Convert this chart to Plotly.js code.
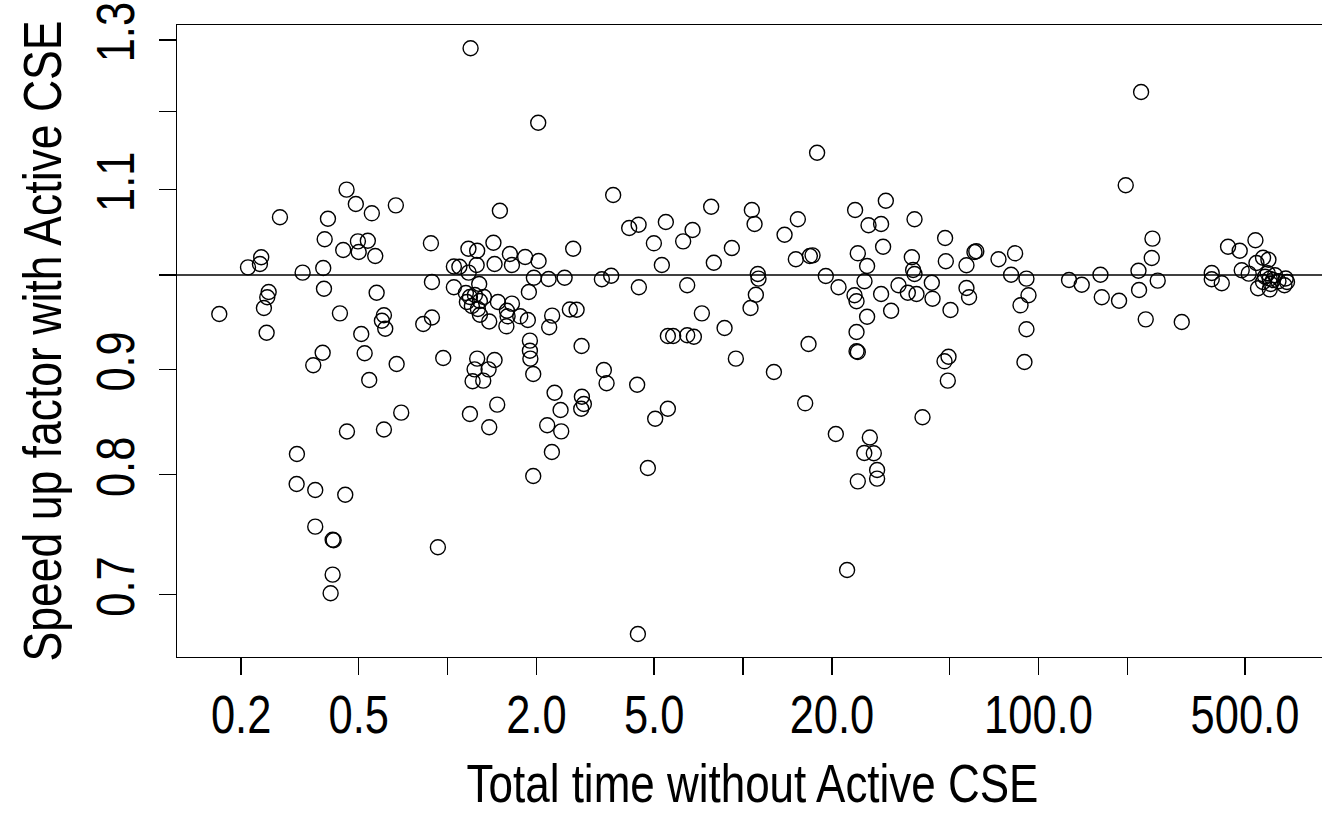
<!DOCTYPE html>
<html>
<head>
<meta charset="utf-8">
<script src="https://cdn.plot.ly/plotly-3.0.1.min.js"></script>
<style>
html,body{margin:0;padding:0;overflow:hidden;background:#fff;}
#chart{width:1340px;height:814px;}
</style>
</head>
<body>
<div id="chart"></div>
<script>
// Total time without Active CSE (x) and speed-up factor (y)
const totalTime = [
  0.455,0.489,0.554,0.668,0.2707,0.3935,0.3836,0.4432,0.497,0.537,0.500,0.5689,0.878,0.2339,0.2316,0.2110,0.3230,0.3793,0.885,0.3815,
  0.2479,0.2452,0.2389,0.1687,0.4320,0.5751,0.6087,0.5993,0.6150,0.2440,0.5101,0.8270,0.885,0.3776,0.3509,0.5238,0.6722,0.5428,0.9663,0.6966,
  0.4563,0.6087,0.3090,1.190,0.3083,0.3564,0.4503,0.3564,0.4082,0.4114,0.927,0.4082,0.4018,
  1.196,2.026,1.503,3.634,4.117,4.430,5.479,4.991,5.311,4.440,2.661,1.176,1.259,1.429,1.625,1.830,2.032,1.442,1.651,1.254,
  1.050,1.096,1.178,1.959,2.197,2.489,3.328,3.578,1.050,1.279,1.884,1.480,1.651,1.588,2.259,2.593,2.733,1.286,1.383,1.581,
  1.761,1.869,2.207,1.596,1.899,2.841,1.899,1.259,1.442,1.906,1.234,1.376,1.215,1.320,1.472,1.383,1.949,3.380,3.452,4.381,
  2.302,2.412,2.173,2.424,2.254,1.949,2.848,2.892,2.833,5.042,5.566,4.762,4.406,5.566,1.153,1.190,1.237,1.162,1.208,1.286,
  1.266,1.327,
  17.81,7.80,10.71,10.94,6.747,6.270,9.165,7.963,13.82,15.33,15.09,16.83,17.19,23.95,30.43,26.59,29.33,38.06,29.79,24.46,
  26.30,37.27,48.30,48.57,57.05,60.73,61.59,11.22,11.28,11.05,10.60,19.06,21.05,25.77,23.84,24.22,29.33,26.30,31.71,33.59,
  36.12,38.65,37.64,38.06,43.55,43.79,50.37,57.05,58.22,6.471,7.255,5.800,6.471,6.816,8.659,9.455,12.72,16.66,16.23,20.61,
  24.22,24.22,24.46,49.60,48.08,49.33,40.50,26.86,25.73,27.71,28.43,28.43,24.46,22.50,
  222.5,197.4,243.1,241.8,218.0,253.3,219.0,230.7,305.5,73.22,83.33,80.77,91.06,92.52,86.93,91.06,89.65,126.9,140.1,162.1,
  163.8,187.4,385.9,385.9,417.3,438.2,479.9,542.5,487.5,514.8,546.7,575.6,600.3,553.5,606.4,584.7,597.0,606.4,622.2,632.0,
  649.0,575.6,686.9,680.0,693.8,611.2
];
const speedup = [
  1.100,1.0825,1.0713,1.0809,1.0666,1.0649,1.0407,1.0283,1.0383,1.039,1.026,1.0214,1.036,1.020,1.0124,1.0086,1.0026,1.0078,0.9922,0.9848,
  0.9812,0.9754,0.9638,0.9574,0.9581,0.9804,0.956,0.9502,0.9418,0.9376,0.9362,0.9468,0.9536,0.9169,0.9041,0.9163,0.9054,0.8894,0.9115,0.8575,
  0.8397,0.8415,0.8188,0.8562,0.7918,0.7866,0.7824,0.7550,0.7441,0.7436,0.7378,0.7156,0.7009,
  1.2881,1.1854,1.0744,1.0934,1.0539,1.0578,1.061,1.036,1.0112,0.9864,1.0298,1.0298,1.0275,1.0367,1.0237,1.0203,1.0158,1.0124,1.0112,1.0112,
  1.0095,1.0093,1.0026,0.997,0.9955,0.997,0.9952,0.9992,0.9864,0.990,0.9812,0.9703,0.9685,0.9609,0.9556,0.9622,0.962,0.9566,0.9494,0.9443,
  0.9549,0.951,0.9433,0.9549,0.9293,0.9238,0.9189,0.9108,0.9094,0.9108,0.900,0.900,0.8881,0.8887,0.8652,0.8436,0.8953,0.8993,0.8861,0.8847,
  0.8768,0.8601,0.8455,0.8398,0.8207,0.7989,0.8729,0.8658,0.8613,0.8517,0.8613,0.8061,0.6697,0.9341,0.9801,0.9757,0.9779,0.9703,0.966,0.9714,
  0.9627,0.9757,
  1.1463,1.0792,1.0753,1.0586,1.0515,1.0383,1.0306,1.0138,1.046,1.0642,1.0177,1.0214,1.0222,1.0753,1.0865,1.0571,1.0586,1.0642,1.0321,1.0245,
  1.0101,1.020,1.0422,1.0154,1.0109,1.026,1.0268,1.0011,0.9959,0.9782,0.9638,0.9989,0.9864,0.993,0.9776,0.9711,0.979,0.9545,0.9609,0.9886,
  0.9804,0.979,1.0056,1.0011,0.9914,0.9739,0.9617,0.9856,0.9754,0.9886,0.9581,0.9341,0.9349,0.9334,0.9425,0.9108,0.8973,0.9258,0.8665,0.8373,
  0.9383,0.9183,0.9176,0.9128,0.9081,0.8887,0.8531,0.8341,0.8197,0.8195,0.8043,0.7966,0.7942,0.7193,
  1.2267,1.1054,1.0414,1.0192,1.0048,0.9937,0.9834,0.9517,0.9489,1.0177,1.0245,1.0003,0.9959,0.9776,0.9667,0.9412,0.9074,0.9944,0.9892,1.0003,
  0.9754,0.9717,1.0022,0.9952,0.9908,1.0321,1.0275,1.0395,1.0053,1.0015,1.0135,1.0195,1.0172,0.9853,0.9841,0.9981,1.0019,0.9959,0.9944,0.9997,
  0.993,0.9922,0.9961,0.9886,0.9922,0.990
];
const xTickVals = [0.2,0.5,1,2,5,10,20,50,100,200,500];
const xTickText = ['0.2','0.5','','2.0','5.0','','20.0','','100.0','','500.0'];
const yTickVals = [0.7,0.8,0.9,1.0,1.1,1.2,1.3];
const yTickText = ['0.7','0.8','0.9','','1.1','','1.3'];
const refLine = 1.0;

const fontFam = '"Liberation Sans", Arial, Helvetica, sans-serif';
const trace = {
  x: totalTime, y: speedup, type: 'scatter', mode: 'markers',
  marker: {symbol: 'circle-open', size: 15, color: '#000', line: {color: '#000', width: 1.4}},
  hoverinfo: 'x+y'
};
const layout = {
  width: 1340, height: 814,
  margin: {l: 177, r: 12, t: 25, b: 157},
  paper_bgcolor: '#fff', plot_bgcolor: '#fff',
  showlegend: false,
  font: {family: fontFam, size: 53, color: '#000'},
  xaxis: {
    type: 'log', range: [-0.916, 2.98],
    tickmode: 'array', tickvals: xTickVals, ticktext: xTickText,
    ticks: 'outside', ticklen: 17, tickwidth: 1.3, tickcolor: '#000',
    showline: true, mirror: true, linecolor: '#000', linewidth: 1.3,
    showgrid: false, zeroline: false, automargin: false,
    ticklabelstandoff: 0, ticklabeloverflow: 'allow',
    title: {text: 'Total time without Active CSE', font: {size: 53}, standoff: 16}
  },
  yaxis: {
    type: 'log', range: [-0.18526, 0.12124],
    tickmode: 'array', tickvals: yTickVals, ticktext: yTickText,
    ticks: 'outside', ticklen: 17, tickwidth: 1.3, tickcolor: '#000', tickangle: -90,
    showline: true, mirror: true, linecolor: '#000', linewidth: 1.3,
    showgrid: false, zeroline: false, automargin: false,
    ticklabelstandoff: 4, ticklabeloverflow: 'allow',
    title: {text: 'Speed up factor with Active CSE', font: {size: 53}, standoff: 10}
  },
  shapes: [{type: 'line', xref: 'paper', x0: 0, x1: 1, yref: 'y', y0: refLine, y1: refLine,
            line: {color: '#000', width: 1.3}}]
};

// The reference uses a narrow Helvetica; emulate it by condensing each text along its baseline.
function condenseText(gd, sx, sel, dx, dy) {
  gd.querySelectorAll(sel).forEach(function (t) {
    const x = parseFloat(t.getAttribute('x') || 0);
    const y = parseFloat(t.getAttribute('y') || 0);
    const tr = t.getAttribute('transform') || '';
    t.setAttribute('transform',
      'translate(' + dx + ',' + dy + ') ' + tr +
      ' translate(' + x + ',' + y + ') scale(' + sx + ',1) translate(' + (-x) + ',' + (-y) + ')');
  });
}

Plotly.newPlot('chart', [trace], layout, {displayModeBar: false, staticPlot: true}).then(function (gd) {
  condenseText(gd, 0.82, '.xtick text', 0, -6);
  condenseText(gd, 0.82, '.ytick text', 0, 0);
  condenseText(gd, 0.83, '.g-xtitle text', 0, 0);
  condenseText(gd, 0.84, '.g-ytitle text', 3, 0);
});
</script>
</body>
</html>
